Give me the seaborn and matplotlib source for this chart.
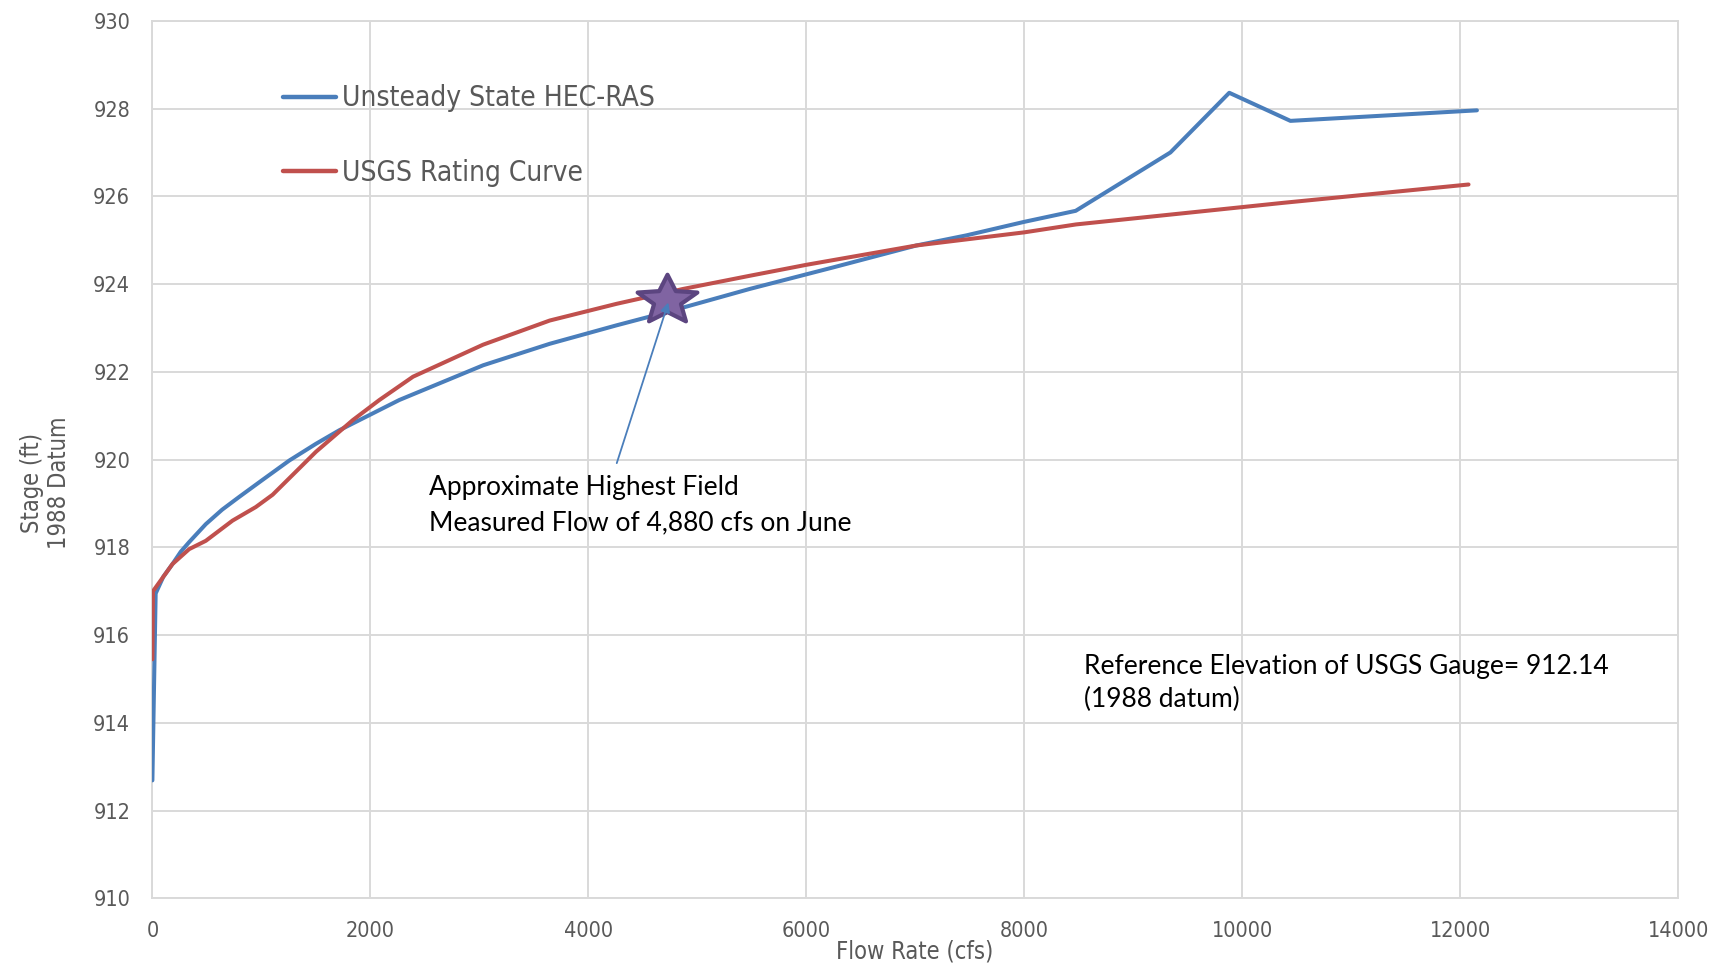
import matplotlib
matplotlib.use("Agg")
import matplotlib.pyplot as plt
from matplotlib.path import Path
import seaborn as sns
import pandas as pd
import numpy as np

# Unsteady-flow HEC-RAS model: flow (cfs) vs stage (ft, 1988 datum)
hec_flow = [0, 30, 100, 184, 260, 337, 490, 640, 796, 1000, 1256, 1500, 1715, 2266,
            3034, 3645, 4257, 4716, 5480, 6244, 7008, 7466, 8000, 8470, 9339, 9879,
            10440, 12151]
hec_stage = [912.69, 916.95, 917.33, 917.62, 917.90, 918.12, 918.53, 918.86, 919.15,
             919.52, 919.98, 920.36, 920.67, 921.36, 922.15, 922.64, 923.06, 923.36,
             923.89, 924.38, 924.88, 925.11, 925.42, 925.67, 927.00, 928.36, 927.72,
             927.96]

# USGS gauge rating curve
usgs_flow = [0, 5, 184, 337, 490, 735, 949, 1103, 1286, 1501, 1838, 2083, 2391,
             3034, 3645, 4257, 4869, 5480, 6000, 7008, 8000, 8473, 10365, 12074]
usgs_stage = [915.45, 917.00, 917.62, 917.96, 918.15, 918.61, 918.92, 919.20, 919.65,
              920.18, 920.90, 921.36, 921.89, 922.62, 923.17, 923.55, 923.89, 924.19,
              924.44, 924.88, 925.18, 925.36, 925.85, 926.27]

series_names = ["Unsteady State HEC-RAS", "USGS Rating Curve"]
series_colors = ["#4A7EBB", "#C0504D"]

# Highest field-measured flow marker
field_flow = 4718
field_stage = 923.64
arrow_tip = (4733, 923.58)
arrow_tail = (4260, 919.92)

x_ticks = list(range(0, 14001, 2000))
y_ticks = list(range(910, 931, 2))

df = pd.concat([
    pd.DataFrame({"flow": hec_flow, "stage": hec_stage, "series": series_names[0]}),
    pd.DataFrame({"flow": usgs_flow, "stage": usgs_stage, "series": series_names[1]}),
], ignore_index=True)

sns.set_theme(style="white")
narrow = dict(family="DejaVu Sans", stretch="condensed")
body = ["Lato", "DejaVu Sans"]
grey_text = "#595959"
grid_col = "#D9D9D9"

# Five-point star, slightly flattened, used as the field-measurement marker
ang = np.pi / 2 + np.arange(10) * np.pi / 5
rad = np.where(np.arange(10) % 2 == 0, 1.0, 0.45)
star_xy = np.column_stack([rad * np.cos(ang), 0.82 * rad * np.sin(ang)])
star_path = Path(np.vstack([star_xy, star_xy[:1]]), closed=True)

fig = plt.figure(figsize=(17.18, 9.64), dpi=100)
ax = fig.add_axes([0.0887, 0.0680, 0.977 - 0.0887, 0.9784 - 0.0680])

sns.lineplot(data=df, x="flow", y="stage", hue="series", hue_order=series_names,
             palette=dict(zip(series_names, series_colors)), sort=False,
             estimator=None, linewidth=2.9, ax=ax, zorder=3)

ax.set_xlim(0, 14000)
ax.set_ylim(910, 930)
ax.set_xticks(x_ticks)
ax.set_yticks(y_ticks)
ax.grid(True, color=grid_col, linewidth=1.4, zorder=0)
for sp in ax.spines.values():
    sp.set_color(grid_col)
    sp.set_linewidth(1.4)
ax.tick_params(axis="both", length=0, pad=16, colors=grey_text, labelsize=15.5)
for lab in ax.get_xticklabels() + ax.get_yticklabels():
    lab.set_family(narrow["family"])
    lab.set_stretch(narrow["stretch"])
ax.set_xlabel("")
ax.set_ylabel("")

# Legend
handles, labels = ax.get_legend_handles_labels()
leg = ax.legend(handles, labels, loc="upper left", bbox_to_anchor=(0.0854, 0.9275),
                frameon=False, borderpad=0, borderaxespad=0, handlelength=1.9,
                handletextpad=0.2, labelspacing=1.65,
                prop={"family": narrow["family"], "stretch": narrow["stretch"], "size": 20.2})
for t in leg.get_texts():
    t.set_color(grey_text)
for h in leg.get_lines():
    h.set_linewidth(3.2)

# Field measurement star and pointer
ax.plot([field_flow], [field_stage], marker=star_path, markersize=43,
        markerfacecolor="#8064A2", markeredgecolor="#5C4580", markeredgewidth=3,
        zorder=5, linestyle="none")
ax.annotate("", xy=arrow_tip, xytext=arrow_tail,
            arrowprops=dict(arrowstyle="-|>", color="#4A7EBB", lw=1.3,
                            mutation_scale=14, shrinkA=0, shrinkB=0), zorder=6)

note_kw = dict(family=body, fontsize=19, color="black", va="baseline", ha="left")
ax.text(2541, 919.19, "Approximate Highest Field", **note_kw)
ax.text(2541, 918.38, "Measured Flow of 4,880 cfs on June", **note_kw)
ax.text(8544, 915.12, "Reference Elevation of USGS Gauge= 912.14", **note_kw)
ax.text(8544, 914.37, "(1988 datum)", **note_kw)

# Axis titles
fig.text(915 / 1718, 1 - 951 / 964, "Flow Rate (cfs)", family=narrow["family"],
         stretch=narrow["stretch"], fontsize=17, color=grey_text,
         ha="center", va="center")
fig.text(45.5 / 1718, 1 - 483 / 964, "Stage (ft)\n1988 Datum", family=narrow["family"],
         stretch=narrow["stretch"], fontsize=17, color=grey_text, ha="center",
         va="center", rotation=90, multialignment="center", linespacing=1.15)

fig.savefig("out.png", dpi=100)
